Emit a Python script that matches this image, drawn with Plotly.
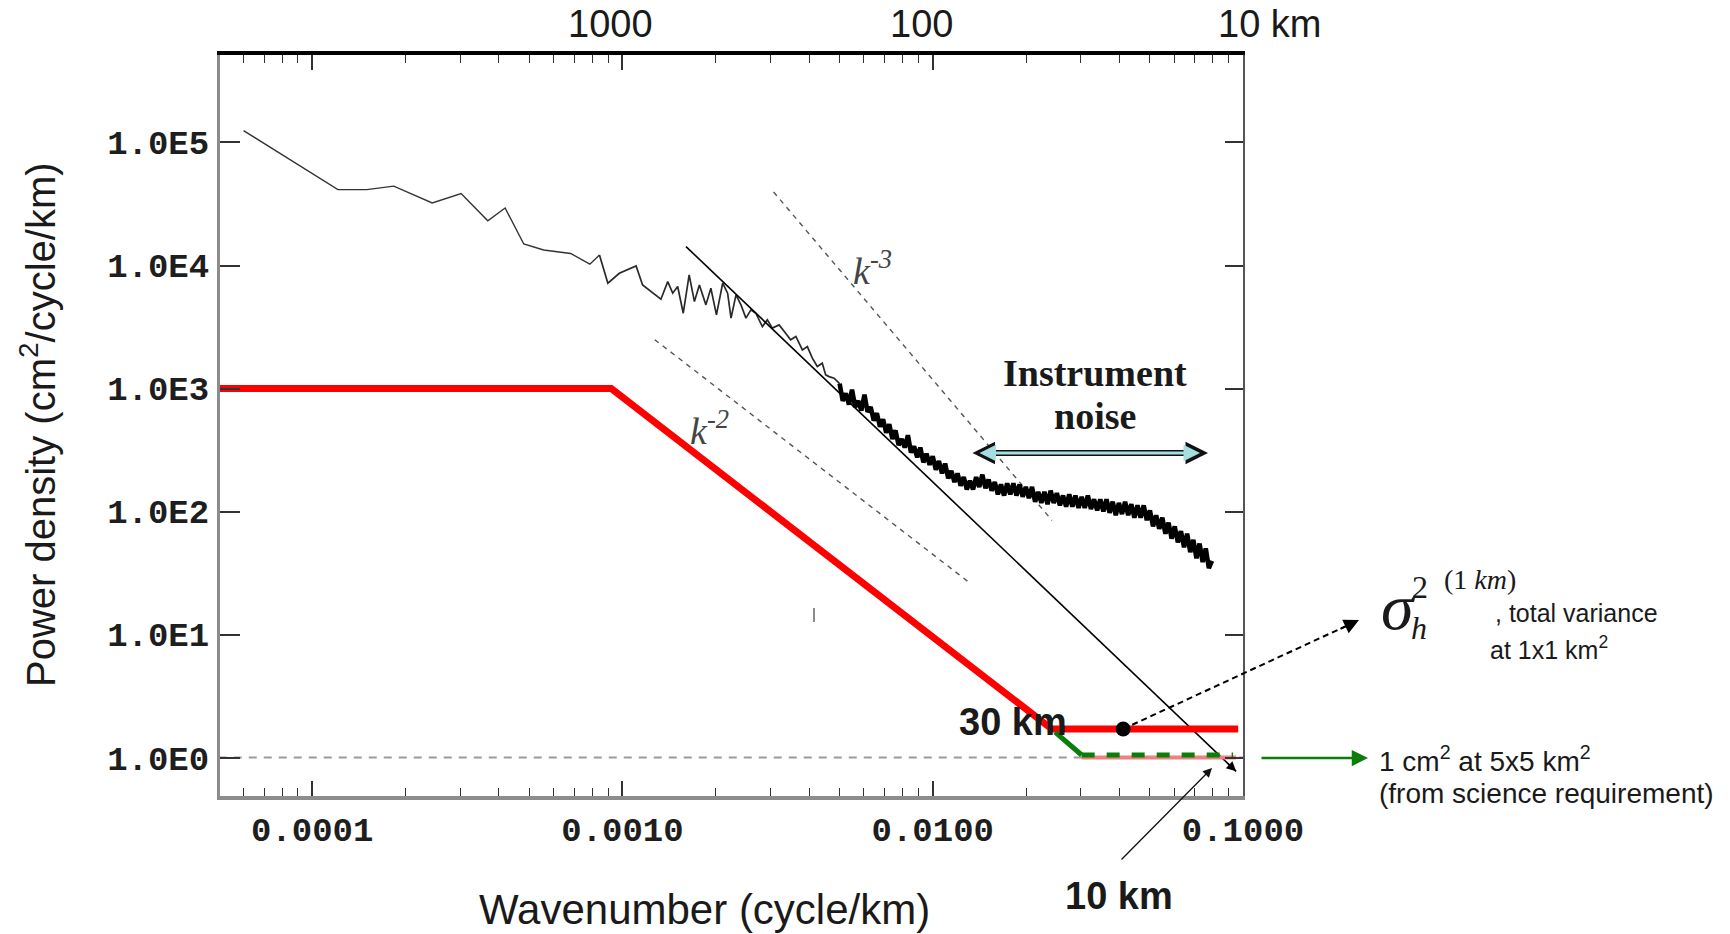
import numpy as np
import plotly.graph_objects as go

# ---------------- data ----------------
# Observed wavenumber spectrum, stored as log10(k) / log10(PSD)
spec_low_logk = [-4.221, -4.010, -3.917, -3.824, -3.737, -3.613, -3.520, -3.434,
                 -3.378, -3.318, -3.254, -3.167, -3.105, -3.074]
spec_low_logy = [5.096, 4.768, 4.617, 4.617, 4.645, 4.508, 4.585, 4.363,
                 4.467, 4.175, 4.126, 4.098, 4.011, 4.086]

spec_mid_logk = [-3.074, -3.047, -3.010, -2.956, -2.935, -2.876, -2.854, -2.838, -2.822, -2.804,
                 -2.785, -2.768, -2.752, -2.731, -2.715, -2.697, -2.677, -2.661, -2.650, -2.634,
                 -2.618, -2.602, -2.586, -2.570, -2.549, -2.533, -2.517, -2.495, -2.474, -2.458,
                 -2.441, -2.420, -2.404, -2.388, -2.372, -2.356, -2.345, -2.334, -2.318, -2.300]
spec_mid_logy = [4.086, 3.856, 3.937, 3.997, 3.842, 3.726, 3.869, 3.775, 3.829, 3.612,
                 3.924, 3.707, 3.842, 3.680, 3.815, 3.599, 3.856, 3.775, 3.572, 3.761,
                 3.680, 3.572, 3.639, 3.612, 3.504, 3.558, 3.491, 3.517, 3.450, 3.396,
                 3.423, 3.314, 3.341, 3.247, 3.179, 3.206, 3.111, 3.097, 3.084, 3.040]

spec_band_logk = [-2.30, -2.29, -2.28, -2.27, -2.26, -2.25, -2.24, -2.23, -2.22, -2.21,
                  -2.20, -2.19, -2.18, -2.17, -2.16, -2.15, -2.14, -2.13, -2.12, -2.11,
                  -2.10, -2.09, -2.08, -2.07, -2.06, -2.05, -2.04, -2.03, -2.02, -2.01,
                  -2.00, -1.99, -1.98, -1.97, -1.96, -1.95, -1.94, -1.93, -1.92, -1.91,
                  -1.90, -1.89, -1.88, -1.87, -1.86, -1.85, -1.84, -1.83, -1.82, -1.81,
                  -1.80, -1.79, -1.78, -1.77, -1.76, -1.75, -1.74, -1.73, -1.72, -1.71,
                  -1.70, -1.69, -1.68, -1.67, -1.66, -1.65, -1.64, -1.63, -1.62, -1.61,
                  -1.60, -1.59, -1.58, -1.57, -1.56, -1.55, -1.54, -1.53, -1.52, -1.51,
                  -1.50, -1.49, -1.48, -1.47, -1.46, -1.45, -1.44, -1.43, -1.42, -1.41,
                  -1.40, -1.39, -1.38, -1.37, -1.36, -1.35, -1.34, -1.33, -1.32, -1.31,
                  -1.30, -1.29, -1.28, -1.27, -1.26, -1.25, -1.24, -1.23, -1.22, -1.21,
                  -1.20, -1.19, -1.18, -1.17, -1.16, -1.15, -1.14, -1.13, -1.12, -1.11,
                  -1.10]
spec_band_logy = [3.04, 2.90, 2.96, 2.87, 2.99, 2.85, 2.90, 2.82, 2.95, 2.81,
                  2.85, 2.74, 2.80, 2.69, 2.75, 2.64, 2.71, 2.59, 2.66, 2.54,
                  2.59, 2.52, 2.62, 2.48, 2.53, 2.44, 2.52, 2.40, 2.47, 2.38,
                  2.45, 2.34, 2.41, 2.31, 2.39, 2.27, 2.33, 2.24, 2.31, 2.21,
                  2.28, 2.18, 2.25, 2.18, 2.28, 2.20, 2.30, 2.19, 2.26, 2.17,
                  2.24, 2.14, 2.22, 2.13, 2.23, 2.14, 2.23, 2.13, 2.22, 2.12,
                  2.20, 2.11, 2.20, 2.08, 2.16, 2.07, 2.16, 2.06, 2.17, 2.07,
                  2.15, 2.05, 2.13, 2.04, 2.14, 2.04, 2.13, 2.03, 2.12, 2.03,
                  2.13, 2.02, 2.10, 2.01, 2.10, 2.00, 2.10, 1.99, 2.08, 1.97,
                  2.07, 1.98, 2.08, 1.97, 2.06, 1.95, 2.05, 1.95, 2.05, 1.93,
                  2.01, 1.88, 1.97, 1.86, 1.95, 1.82, 1.91, 1.78, 1.88, 1.75,
                  1.84, 1.71, 1.82, 1.67, 1.77, 1.62, 1.74, 1.59, 1.70, 1.54,
                  1.60]

# Requirement curve (red) and 5x5 km requirement (green)
red_k = [5.0e-5, 0.00092, 0.0242, 0.0965]
red_p = [1000.0, 1000.0, 1.71, 1.71]
green_k = [0.0248, 0.0302]
green_p = [1.61, 1.05]
green_dash_k = [0.0302, 0.0929]
green_dash_p = [1.05, 1.05]
pink_k = [0.0302, 0.095]
pink_p = [1.0, 1.0]
unit_k = [5.0e-5, 0.1]
unit_p = [1.0, 1.0]

# Reference slopes
fit_k = [0.001603, 0.0950]
fit_p = [14250.0, 0.774]
km3_k = [0.00307, 0.02424]
km3_p = [39600.0, 84.7]
km2_k = [0.001271, 0.01294]
km2_p = [2495.0, 27.2]

dot_k = [0.0411]
dot_p = [1.71]

xticks = [1e-4, 1e-3, 1e-2, 1e-1]
xticktext = ["0.0001", "0.0010", "0.0100", "0.1000"]
yticks = [1, 10, 100, 1000, 1e4, 1e5]
yticktext = ["1.0E0", "1.0E1", "1.0E2", "1.0E3", "1.0E4", "1.0E5"]
minor_x = [6e-5, 7e-5, 8e-5, 9e-5] + [m * 1e-4 for m in range(2, 10)] + \
          [m * 1e-3 for m in range(2, 10)] + [m * 1e-2 for m in range(2, 10)]
top_labels = ["1000", "100", "10 km"]

# ---------------- layout geometry ----------------
W, H = 1730, 934
L, R, T, B = 220, 487, 55, 138
XR = [-4.297, -1.0]
YR = [-0.312, 5.711]


def px(X):
    return (X - L) / (W - L - R)


def py(Y):
    return (H - B - Y) / (H - T - B)


def dpx(k):
    return (np.log10(k) - XR[0]) / (XR[1] - XR[0])


def dpy(p):
    return (np.log10(p) - YR[0]) / (YR[1] - YR[0])


fig = go.Figure()

# unit line (grey dashed at 1 cm^2)
fig.add_trace(go.Scatter(x=unit_k, y=unit_p, mode="lines",
                         line=dict(color="#9a9a9a", width=2, dash="8px,7px"), hoverinfo="skip"))
# reference slopes (dashed)
fig.add_trace(go.Scatter(x=km3_k, y=km3_p, mode="lines",
                         line=dict(color="#555555", width=1.4, dash="5px,5px"), hoverinfo="skip"))
fig.add_trace(go.Scatter(x=km2_k, y=km2_p, mode="lines",
                         line=dict(color="#555555", width=1.4, dash="5px,5px"), hoverinfo="skip"))
# spectrum
fig.add_trace(go.Scatter(x=[10 ** v for v in spec_low_logk], y=[10 ** v for v in spec_low_logy],
                         mode="lines", line=dict(color="#333333", width=1.4), hoverinfo="skip"))
fig.add_trace(go.Scatter(x=[10 ** v for v in spec_mid_logk], y=[10 ** v for v in spec_mid_logy],
                         mode="lines", line=dict(color="#2a2a2a", width=1.7), hoverinfo="skip"))
fig.add_trace(go.Scatter(x=[10 ** v for v in spec_band_logk], y=[10 ** v for v in spec_band_logy],
                         mode="lines", line=dict(color="#000000", width=4.6), hoverinfo="skip"))
# solid fit line
fig.add_trace(go.Scatter(x=fit_k, y=fit_p, mode="lines",
                         line=dict(color="#000000", width=1.6), hoverinfo="skip"))
# red requirement
fig.add_trace(go.Scatter(x=red_k, y=red_p, mode="lines",
                         line=dict(color="#ff0000", width=7), hoverinfo="skip"))
# pink under-line and green requirement
fig.add_trace(go.Scatter(x=pink_k, y=pink_p, mode="lines",
                         line=dict(color="#f08080", width=4), hoverinfo="skip"))
fig.add_trace(go.Scatter(x=green_k, y=green_p, mode="lines",
                         line=dict(color="#0a7d0a", width=5), hoverinfo="skip"))
fig.add_trace(go.Scatter(x=green_dash_k, y=green_dash_p, mode="lines",
                         line=dict(color="#0a7d0a", width=5, dash="13px,12px"), hoverinfo="skip"))
# black dot
fig.add_trace(go.Scatter(x=dot_k, y=dot_p, mode="markers",
                         marker=dict(color="black", size=15), hoverinfo="skip"))
# empty trace to anchor the top/right axes
fig.add_trace(go.Scatter(x=[], y=[], xaxis="x2", yaxis="y2", hoverinfo="skip"))

tick_font = dict(family="Liberation Mono", size=34, color="#1e1e1e", weight="bold")

fig.update_layout(
    width=W, height=H, autosize=False,
    margin=dict(l=L, r=R, t=T, b=B, pad=0),
    paper_bgcolor="white", plot_bgcolor="white",
    showlegend=False,
    xaxis=dict(type="log", range=XR, tickmode="array", tickvals=xticks, ticktext=xticktext,
               ticks="inside", ticklen=15, tickwidth=1.5, tickcolor="#333",
               showline=True, linecolor="#8c8c8c", linewidth=4, mirror=False,
               showgrid=False, zeroline=False, tickfont=tick_font, ticklabelstandoff=0,
               minor=dict(ticks="inside", ticklen=8, tickwidth=1.2, tickcolor="#333",
                          tickmode="array", tickvals=minor_x, showgrid=False)),
    xaxis2=dict(type="log", range=XR, overlaying="x", side="top", tickmode="array",
                tickvals=xticks, showticklabels=False,
                ticks="inside", ticklen=15, tickwidth=1.5, tickcolor="#333",
                showline=True, linecolor="#000", linewidth=4, showgrid=False, zeroline=False,
                minor=dict(ticks="inside", ticklen=8, tickwidth=1.2, tickcolor="#333",
                           tickmode="array", tickvals=minor_x, showgrid=False)),
    yaxis=dict(type="log", range=YR, tickmode="array", tickvals=yticks, ticktext=yticktext,
               ticks="inside", ticklen=20, tickwidth=2, tickcolor="#333",
               showline=True, linecolor="#8c8c8c", linewidth=3,
               showgrid=False, zeroline=False, tickfont=tick_font, ticklabelstandoff=1),
    yaxis2=dict(type="log", range=YR, overlaying="y", side="right", tickmode="array",
                tickvals=yticks, showticklabels=False, ticks="inside", ticklen=18,
                tickwidth=2, tickcolor="#333", showline=True, linecolor="#555", linewidth=2,
                showgrid=False, zeroline=False),
)

ann = []


def txt(X, Y, text, size, family="Liberation Sans", color="#1a1a1a", xanchor="center", angle=0):
    ann.append(dict(x=px(X), y=py(Y), xref="paper", yref="paper", text=text, showarrow=False,
                    font=dict(family=family, size=size, color=color), xanchor=xanchor,
                    yanchor="middle", textangle=angle))


# top axis labels (wavelength)
txt(610, 24, top_labels[0], 38)
txt(921, 24, top_labels[1], 38)
txt(1269, 24, top_labels[2], 38)
# axis titles
txt(704, 910, "Wavenumber (cycle/km)", 42)
txt(38, 425, "Power density (cm<sup>2</sup>/cycle/km)", 40, angle=-90)
# in-plot labels
txt(1095, 373, "<b>Instrument</b>", 38, family="Liberation Serif")
txt(1095, 416, "<b>noise</b>", 38, family="Liberation Serif")
txt(709, 428, "<i>k</i><sup><i>-2</i></sup>", 38, family="Liberation Serif", color="#444")
txt(872, 268, "<i>k</i><sup><i>-3</i></sup>", 38, family="Liberation Serif", color="#444")
txt(1013, 722, "<b>30 km</b>", 38)
txt(1119, 896, "<b>10 km</b>", 38)
# sigma annotation
txt(1398, 606, "<i>σ</i>", 66, family="Liberation Serif")
txt(1419, 628, "<i>h</i>", 32, family="Liberation Serif")
txt(1420, 587, "2", 32, family="Liberation Serif")
txt(1480, 579, "(1 <i>km</i>)", 28, family="Liberation Serif")
txt(1493, 613, ", total variance", 25, xanchor="left")
txt(1488, 648, "at 1x1 km<sup>2</sup>", 25, xanchor="left")
txt(1377, 759, "1 cm<sup>2</sup> at 5x5 km<sup>2</sup>", 28, xanchor="left")
txt(1377, 793, "(from science requirement)", 28, xanchor="left")

# arrows
# instrument noise double arrow: black outline + cyan core
ann.append(dict(x=px(1208), y=py(453), xref="paper", yref="paper", ax=-237, ay=0,
                showarrow=True, arrowhead=2, arrowside="end+start", arrowsize=0.75,
                arrowwidth=6, arrowcolor="#111", text=""))
ann.append(dict(x=px(1200), y=py(453), xref="paper", yref="paper", ax=-222, ay=0,
                showarrow=True, arrowhead=2, arrowside="end+start", arrowsize=1.1,
                arrowwidth=3, arrowcolor="#a6dde0", text=""))
# green arrow
ann.append(dict(x=px(1368), y=py(758), xref="paper", yref="paper", ax=-108, ay=0,
                showarrow=True, arrowhead=2, arrowsize=1.3, arrowwidth=2.5,
                arrowcolor="#0a7d0a", text=""))
# 10 km arrow
ann.append(dict(x=px(1212), y=py(768), xref="paper", yref="paper", ax=-92, ay=93,
                showarrow=True, arrowhead=2, arrowsize=1.4, arrowwidth=1.3,
                arrowcolor="#111", text=""))
# arrowhead of dashed pointer
hx, hy = px(1359), py(620)
ann.append(dict(x=hx, y=hy, xref="paper", yref="paper", ax=-20, ay=9.5,
                showarrow=True, arrowhead=2, arrowsize=1.5, arrowwidth=2,
                arrowcolor="#000", text=""))
# arrowhead at end of solid fit line
ann.append(dict(x=np.log10(fit_k[1]), y=np.log10(fit_p[1]), xref="x", yref="y",
                ax=-10, ay=-9.5, showarrow=True, arrowhead=2, arrowsize=1.2,
                arrowwidth=1.6, arrowcolor="#000", text=""))

fig.update_layout(annotations=ann)

shapes = [
    dict(type="line", xref="paper", yref="paper",
         x0=dpx(dot_k[0]), y0=dpy(dot_p[0]), x1=hx - 0.012, y1=hy - 0.012 * 0.47 * 1023 / 741,
         line=dict(color="black", width=2, dash="6px,4px")),
    dict(type="line", xref="paper", yref="paper", x0=px(814), x1=px(814),
         y0=py(608), y1=py(622), line=dict(color="#666", width=1.5)),
]
fig.update_layout(shapes=shapes)

fig.write_html("out.html")
